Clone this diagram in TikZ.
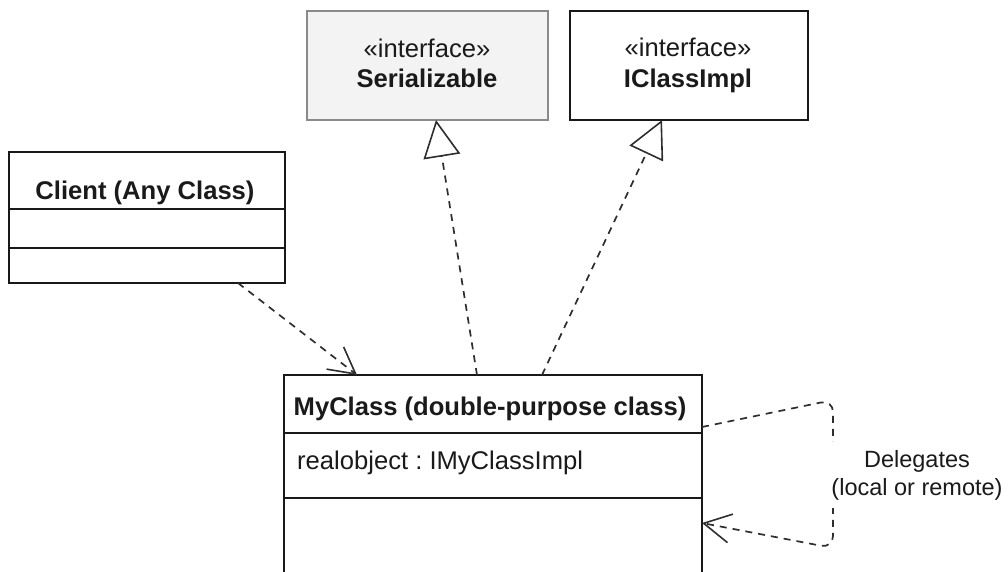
\documentclass[tikz,border=0pt]{standalone}
\usepackage{fontspec}
\setmainfont{Liberation Sans}
\usetikzlibrary{arrows.meta}
\definecolor{txt}{HTML}{1A1A1A}
\definecolor{dashc}{HTML}{2E2E2E}
\definecolor{serfill}{HTML}{F3F3F3}
\definecolor{serdraw}{HTML}{8A8A8A}
\frenchspacing
\begin{document}
\begin{tikzpicture}[x=1pt,y=-1pt,
  box/.style={draw=black!90, line width=2pt, anchor=north west, inner sep=0pt, outer sep=0pt},
  lbl/.style={anchor=base, text=txt, inner sep=0pt, font=\fontsize{25.6}{30}\selectfont},
  blbl/.style={anchor=base, text=txt, inner sep=0pt, font=\fontsize{25.6}{30}\selectfont\bfseries},
  comp/.style={draw=black!90, line width=2pt},
  conn/.style={draw=dashc, line width=1.7pt, dash pattern=on 7pt off 6pt},
  dep/.style={conn, -{Straight Barb[length=26pt,width=28pt,line width=1.6pt]}},
  real/.style={conn, -{Triangle[length=37pt,width=37pt,fill=white,line width=1.6pt]}},
]
\useasboundingbox (0,0) rectangle (1008,572);
\clip (0,0) rectangle (1008,572);

% Serializable
\node[box, draw=serdraw, fill=serfill, line width=1.5pt, minimum width=241pt, minimum height=109pt] (ser) at (307,11) {};
\node[lbl] (ser1) at (427,58) {«interface»};
\node[blbl] (ser2) at (427,88) {Serializable};

% IClassImpl
\node[box, minimum width=238pt, minimum height=109pt] (icl) at (570,11) {};
\node[lbl] (icl1) at (688,57) {«interface»};
\node[blbl] (icl2) at (688,88) {IClassImpl};

% Client
\node[box, minimum width=276pt, minimum height=131pt] (cli) at (9,152) {};
\draw[comp] ([yshift=-57pt]cli.north west) -- ([yshift=-57pt]cli.north east);
\draw[comp] ([yshift=-96pt]cli.north west) -- ([yshift=-96pt]cli.north east);
\node[blbl] (cli1) at (145,199) {Client (Any Class)};

% MyClass
\node[box, minimum width=418pt, minimum height=240pt] (my) at (284,375) {};
\draw[comp] ([yshift=-58pt]my.north west) -- ([yshift=-58pt]my.north east);
\draw[comp] ([yshift=-123pt]my.north west) -- ([yshift=-123pt]my.north east);
\node[blbl] (my1) at (490,415) {MyClass (double-purpose class)};
\node[lbl, anchor=base west] (my2) at (297,469) {realobject : IMyClassImpl};

% connectors
\draw[dep] ([xshift=229pt]cli.south west) -- ([xshift=73pt]my.north west);
\draw[real] ([xshift=193pt]my.north west) -- ([xshift=129pt]ser.south west);
\draw[real] ([xshift=258pt]my.north west) -- ([xshift=92pt]icl.south west);

% self delegation loop
\draw[conn, rounded corners=12pt, -{Straight Barb[length=27pt,width=29pt,line width=1.6pt]}]
  ([yshift=-52pt]my.north east) -- (833,400) -- (833,548) -- ([yshift=-148pt]my.north east);
\node[fill=white, align=center, anchor=north, inner xsep=3pt, inner ysep=8pt, text=txt,
      font=\fontsize{23.5}{28}\selectfont] (del) at (917,442) {Delegates\\(local or remote)};
\end{tikzpicture}
\end{document}
